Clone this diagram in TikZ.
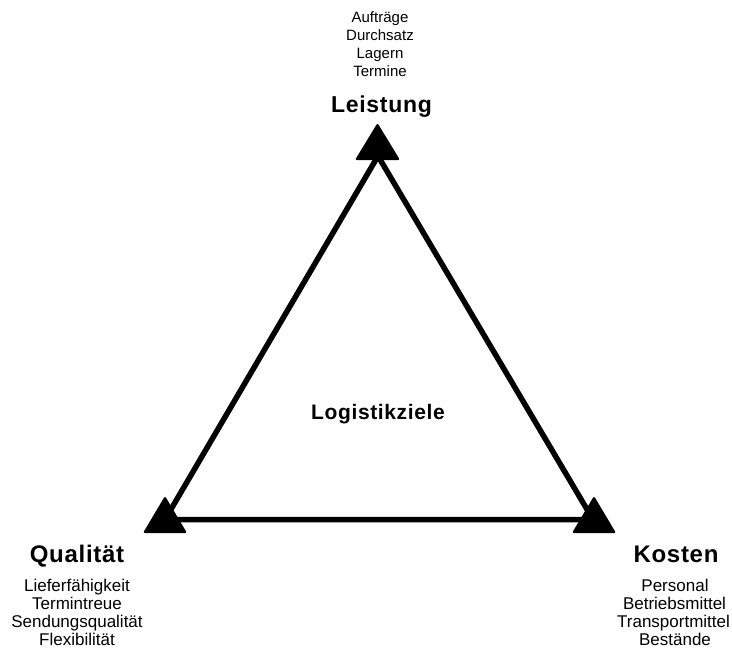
\documentclass[tikz,border=0pt]{standalone}
\usepackage{fontspec}
\setmainfont{Liberation Sans}
\newfontfamily\titlefont[LetterSpace=3]{Liberation Sans Bold}
\begin{document}
\begin{tikzpicture}[x=1pt,y=-1pt,
  edge/.style={line width=5.5pt, line join=miter},
  marker/.style={fill=black, rounded corners=2pt},
  title/.style={anchor=base, inner sep=0pt, font=\titlefont\fontsize{23}{26}\selectfont},
  bigtitle/.style={title, font=\titlefont\fontsize{24}{27}\selectfont},
  centre/.style={anchor=base, inner sep=0pt, font=\titlefont\fontsize{21}{24}\selectfont},
  item/.style={anchor=base, inner sep=0pt, font=\fontsize{15}{18}\selectfont},
  bigitem/.style={item, font=\fontsize{17}{20}\selectfont}]
\useasboundingbox (0,0) rectangle (732,651);

% corners of the goal triangle
\coordinate (top) at (378,156);
\coordinate (left) at (165,519.5);
\coordinate (right) at (593,519.5);
\draw[edge] (top) -- (left) -- (right) -- cycle;

% triangular markers at the corners
\fill[marker] (377.5,123) -- (400,160) -- (355,160) -- cycle;
\fill[marker] (165,496) -- (187,533) -- (143,533) -- cycle;
\fill[marker] (594,496) -- (616,533) -- (572,533) -- cycle;

\node[centre] (ziel) at (378,419) {Logistikziele};

% Leistung
\node[title] (leistung) at (381.5,112) {Leistung};
\node[item] (l1) at (380,22) {Aufträge};
\node[item] (l2) at (380,40.2) {Durchsatz};
\node[item] (l3) at (380,58.4) {Lagern};
\node[item] (l4) at (380,76.6) {Termine};

% Qualität
\node[bigtitle] (qualitaet) at (77,562) {Qualität};
\node[bigitem] (q1) at (77,591) {Lieferfähigkeit};
\node[bigitem] (q2) at (77,609.3) {Termintreue};
\node[bigitem] (q3) at (77,627.6) {Sendungsqualität};
\node[bigitem] (q4) at (77,645.9) {Flexibilität};

% Kosten
\node[bigtitle] (kosten) at (676,562) {Kosten};
\node[bigitem] (k1) at (675,591) {Personal};
\node[bigitem] (k2) at (674.5,609.3) {Betriebsmittel};
\node[bigitem] (k3) at (673.5,627.6) {Transportmittel};
\node[bigitem] (k4) at (675,645.9) {Bestände};
\end{tikzpicture}
\end{document}
